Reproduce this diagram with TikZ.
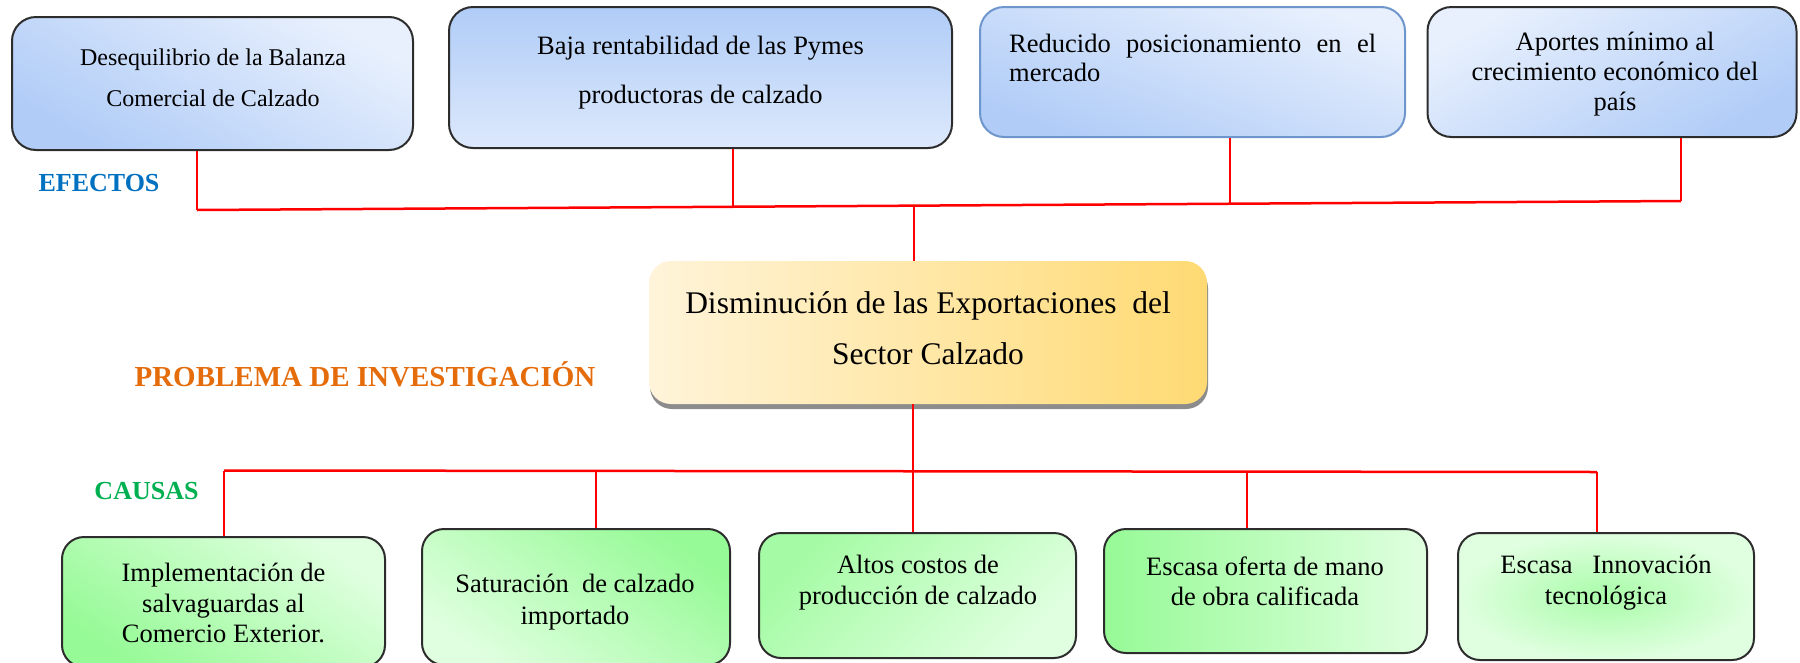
\documentclass[tikz,border=0pt]{standalone}
\usepackage{fontspec}
\setmainfont{Liberation Serif}
\usetikzlibrary{shadows}
\definecolor{blueDark}{RGB}{176,204,247}
\definecolor{blueLight}{RGB}{232,240,253}
\definecolor{greenDark}{RGB}{150,250,150}
\definecolor{greenLight}{RGB}{224,255,224}
\definecolor{goldLight}{RGB}{255,244,218}
\definecolor{goldDark}{RGB}{255,218,115}
\definecolor{boxEdge}{RGB}{45,45,45}
\definecolor{blueEdge}{RGB}{110,150,205}
\definecolor{efBlue}{RGB}{0,112,192}
\definecolor{prOrange}{RGB}{228,108,10}
\definecolor{caGreen}{RGB}{0,176,80}
\tikzset{
  effbox/.style={draw=boxEdge, line width=2pt, rounded corners=24pt, inner sep=0pt},
  causebox/.style={draw=boxEdge, line width=2pt, rounded corners=22pt, inner sep=0pt},
  redline/.style={draw=red, line width=2.5pt},
  boxtext/.style={align=center, inner sep=0pt},
  headlabel/.style={inner sep=0pt, font=\bfseries\fontsize{26}{30}\selectfont},
}
\begin{document}
\begin{tikzpicture}[x=1pt,y=-1pt]
\useasboundingbox (0,0) rectangle (1800,662);
\clip (0,0) rectangle (1800,662);

% ---------- EFECTOS boxes ----------
\node[effbox, shade, top color=blueLight, bottom color=blueDark, shading angle=-30,
      minimum width=401pt, minimum height=133pt] (e1) at (212.5,83.5) {};
\node[effbox, shade, top color=blueDark, bottom color=blueLight!80!blueDark,
      minimum width=503pt, minimum height=141pt] (e2) at (700.5,77.5) {};
\node[effbox, draw=blueEdge, shade, top color=blueLight, bottom color=blueDark, shading angle=-20,
      minimum width=425pt, minimum height=130pt] (e3) at (1192.5,72) {};
\node[effbox, shade, top color=blueLight, bottom color=blueDark, shading angle=30,
      minimum width=369pt, minimum height=130pt] (e4) at (1612,72) {};

\node[boxtext, font=\fontsize{24}{41}\selectfont] (t1) at (213,78)
  {Desequilibrio de la Balanza\\Comercial de Calzado};
\node[boxtext, font=\fontsize{26.5}{49}\selectfont] (t2) at (700.5,73)
  {Baja rentabilidad de las Pymes\\productoras de calzado};
\node[align=left, inner sep=0pt, anchor=west, font=\fontsize{26.5}{29}\selectfont] (t3) at (1009,58)
  {\makebox[367pt][s]{Reducido posicionamiento en el}\\mercado};
\node[boxtext, font=\fontsize{26.5}{30}\selectfont] (t4) at (1615,74)
  {Aportes mínimo al\\crecimiento económico del\\país};

\node[headlabel, text=efBlue] (lef) at (99,183) {EFECTOS};

% ---------- central problem ----------
\node[inner sep=0pt, rounded corners=22pt, shade, left color=goldLight, right color=goldDark,
      drop shadow={shadow xshift=1pt, shadow yshift=-5pt, fill=black!45, opacity=1},
      minimum width=558pt, minimum height=143pt] (m) at (928,332.5) {};
\node[boxtext, font=\fontsize{31.5}{51}\selectfont] (tm) at (928,328)
  {Disminución de las Exportaciones\ \ del\\Sector Calzado};

\node[inner sep=0pt, text=prOrange, font=\bfseries\fontsize{29}{32}\selectfont] (lpr) at (365,374)
  {PROBLEMA DE INVESTIGACIÓN};

% ---------- CAUSAS boxes ----------
\node[causebox, shade, top color=greenLight, bottom color=greenDark, shading angle=-35,
      minimum width=323pt, minimum height=130pt] (c1) at (223.5,602) {};
\node[causebox, shade, top color=greenDark, bottom color=greenLight, shading angle=-35,
      minimum width=308pt, minimum height=136pt] (c2) at (576,597) {};
\node[causebox, shade, top color=greenDark!80!greenLight, bottom color=greenLight, shading angle=45,
      minimum width=317pt, minimum height=125pt] (c3) at (917.5,595.5) {};
\node[causebox, shade, left color=greenDark, right color=greenLight,
      minimum width=323pt, minimum height=124pt] (c4) at (1265.5,591) {};
\node[causebox, shade, inner color=greenDark!75!greenLight, outer color=greenLight,
      minimum width=296pt, minimum height=127pt] (c5) at (1606,596.5) {};

\node[boxtext, font=\fontsize{26.5}{30.5}\selectfont] (s1) at (223.5,603)
  {Implementación de\\salvaguardas al\\Comercio Exterior.};
\node[boxtext, font=\fontsize{26.5}{32}\selectfont] (s2) at (575,602)
  {Saturación\ \ de calzado\\importado};
\node[boxtext, font=\fontsize{26.5}{31}\selectfont] (s3) at (918,583)
  {Altos costos de\\producción de calzado};
\node[boxtext, font=\fontsize{26.5}{30}\selectfont] (s4) at (1265,581)
  {Escasa oferta de mano\\de obra calificada};
\node[boxtext, font=\fontsize{26.5}{31}\selectfont] (s5) at (1606,583)
  {Escasa\ \ \ Innovación\\tecnológica};

\node[headlabel, text=caGreen] (lca) at (146.5,491) {CAUSAS};

% ---------- connectors ----------
\coordinate (d1) at (197,210);
\coordinate (d2) at (733,206.8);
\coordinate (dc) at (914,205.6);
\coordinate (d3) at (1230,203.7);
\coordinate (d4) at (1681,201);
\draw[redline] (d1) -- (d4);
\draw[redline] (d1 |- e1.south) -- (d1);
\draw[redline] (d2 |- e2.south) -- (d2);
\draw[redline] (d3 |- e3.south) -- (d3);
\draw[redline] (d4 |- e4.south) -- (d4);
\draw[redline] (dc) -- (dc |- m.north);

\coordinate (k1) at (224,470.5);
\coordinate (k2) at (596,471);
\coordinate (k3) at (913,471.5);
\coordinate (k4) at (1247,472);
\coordinate (k5) at (1597,472);
\draw[redline] (k1) -- (k5);
\draw[redline] (k3 |- m.south) -- (k3 |- c3.north);
\draw[redline] (k1) -- (k1 |- c1.north);
\draw[redline] (k2) -- (k2 |- c2.north);
\draw[redline] (k4) -- (k4 |- c4.north);
\draw[redline] (k5) -- (k5 |- c5.north);
\end{tikzpicture}
\end{document}
